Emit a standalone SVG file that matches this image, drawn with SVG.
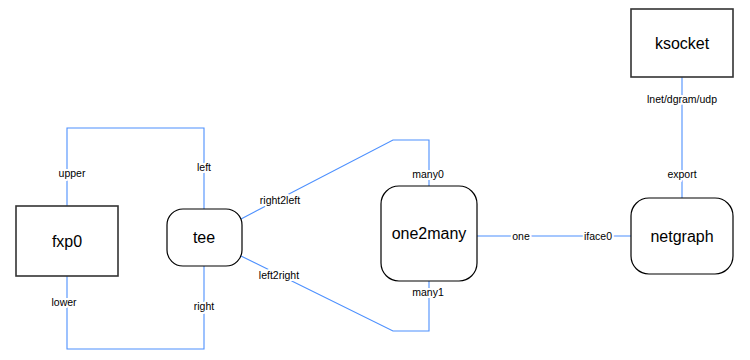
<svg xmlns="http://www.w3.org/2000/svg" width="750" height="360" viewBox="0 0 750 360">
<style>
.node{fill:#fff;stroke:#000;stroke-width:1.2}
.sq{stroke:#333;stroke-width:1.6}
.edge{fill:none;stroke:#4d90fe;stroke-width:1.1}
.nt{font-family:"Liberation Sans",Arial,sans-serif;font-size:16px;fill:#000;text-anchor:middle;dominant-baseline:central}
.lb{font-family:"Liberation Sans",Arial,sans-serif;font-size:10.5px;fill:#000;text-anchor:middle;dominant-baseline:central;paint-order:stroke;stroke:#fff;stroke-width:4;stroke-linejoin:round}
</style>
<rect width="750" height="360" fill="#fff"/>
<g id="connectors">
<polyline class="edge" points="67,206 67,128 204,128 204,209"/>
<polyline class="edge" points="67,276 67,349 204,349 204,266"/>
<polyline class="edge" points="241,219 393,140 429,140 429,186"/>
<polyline class="edge" points="241,256 393,331 429,331 429,281"/>
<line class="edge" x1="477" y1="236" x2="631" y2="236"/>
<line class="edge" x1="682" y1="77" x2="682" y2="198"/>
<text class="lb" x="72" y="173">upper</text>
<text class="lb" x="204" y="167">left</text>
<text class="lb" x="64" y="302">lower</text>
<text class="lb" x="204" y="306">right</text>
<text class="lb" x="280" y="200">right2left</text>
<text class="lb" x="279" y="275">left2right</text>
<text class="lb" x="428" y="174">many0</text>
<text class="lb" x="428" y="292">many1</text>
<text class="lb" x="521" y="236">one</text>
<text class="lb" x="598" y="236">iface0</text>
<text class="lb" x="682" y="99">lnet/dgram/udp</text>
<text class="lb" x="682" y="174">export</text>
</g>
<g id="fxp0">
<rect class="node sq" x="16" y="206" width="102" height="70"/>
<text class="nt" x="67" y="241">fxp0</text>
</g>
<g id="tee">
<rect class="node" x="167" y="209" width="75" height="57" rx="16"/>
<text class="nt" x="204" y="237">tee</text>
</g>
<g id="one2many">
<rect class="node" x="381" y="186" width="96" height="95" rx="18"/>
<text class="nt" x="429" y="233">one2many</text>
</g>
<g id="netgraph">
<rect class="node" x="631" y="198" width="102" height="76" rx="18"/>
<text class="nt" x="682" y="236">netgraph</text>
</g>
<g id="ksocket">
<rect class="node sq" x="631" y="9" width="102" height="68"/>
<text class="nt" x="682" y="43">ksocket</text>
</g>
</svg>
